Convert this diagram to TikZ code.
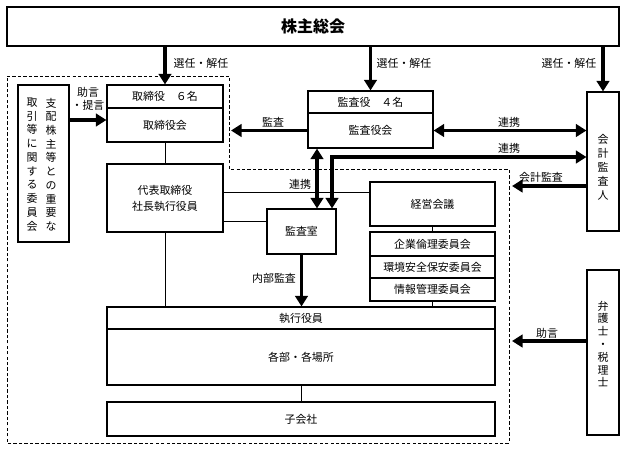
\documentclass[tikz,border=0pt]{standalone}
\usepackage{fontspec}
\setmainfont{Noto Sans CJK JP}
\usetikzlibrary{arrows.meta}
\newcommand\jpfs{\fontsize{8.2pt}{10pt}\selectfont}
\newcommand\bx[6]{\node[box, minimum width={(#4-#2)*0.75pt}, minimum height={(#5-#3)*0.75pt}] (#1) at ({(#2+#4)/2},{(#3+#5)/2}) {#6};}
\begin{document}
\begin{tikzpicture}[x=0.75pt,y=-0.75pt,
  box/.style={draw, line width=0.85pt, inner sep=0pt, align=center, font=\jpfs},
  lbl/.style={inner sep=0pt, font=\jpfs, align=center},
  arr/.style={line width=2.6pt, -{Triangle[length=8pt,width=9.5pt]}},
  darr/.style={line width=2.6pt, {Triangle[length=8pt,width=9.5pt]}-{Triangle[length=8pt,width=9.5pt]}},
  ln/.style={line width=0.75pt},
  grp/.style={line width=0.75pt, dash pattern=on 2.5pt off 1.6pt}]
\useasboundingbox (0,0) rectangle (627,451);
\fill[white] (0,0) rectangle (627,451);

% group (dashed)
\draw[grp] (7,76) -- (229,76) -- (229,169) -- (509,169) -- (509,443) -- (7,443) -- cycle;

% boxes
\bx{top}{7}{7}{619}{46}{{\fontsize{12pt}{14pt}\selectfont\bfseries 株主総会}}
\bx{iinkai}{18}{85}{69}{242}{}
\bx{tori_h}{107}{85}{223}{108}{取締役　６名}
\bx{tori_b}{107}{108}{223}{142}{取締役会}
\bx{kansa_h}{308}{91}{433}{113}{監査役　４名}
\bx{kansa_b}{308}{113}{433}{148}{監査役会}
\bx{kaikei}{587}{92}{619}{231}{}
\bx{bengo}{587}{270}{619}{435}{}
\bx{daihyo}{107}{164}{223}{232}{代表取締役\\[2pt]社長執行役員}
\bx{shitsu}{267}{209}{336}{254}{監査室}
\bx{keiei}{370}{182}{495}{226}{経営会議}
\bx{c1}{370}{232}{495}{256}{企業倫理委員会}
\bx{c2}{370}{256}{495}{278}{環境安全保安委員会}
\bx{c3}{370}{278}{495}{301}{情報管理委員会}
\bx{shikko_h}{107}{307}{495}{329}{執行役員}
\bx{kakubu}{107}{329}{495}{385}{各部・各場所}
\bx{kogaisha}{107}{402}{495}{436}{子会社}

% vertical texts
\node[lbl, font=\fontsize{8.2pt}{10.3pt}\selectfont] (iinR) at (51,164.5) {支\\配\\株\\主\\等\\と\\の\\重\\要\\な};
\node[lbl, font=\fontsize{8.2pt}{10.3pt}\selectfont] (iinL) at (32,164.5) {取\\引\\等\\に\\関\\す\\る\\委\\員\\会};
\node[lbl, font=\fontsize{8.2pt}{10.5pt}\selectfont] (kaikeiT) at (603,167) {会\\計\\監\\査\\人};
\node[lbl, font=\fontsize{8.2pt}{9.6pt}\selectfont] (bengoT) at (603,344) {弁\\護\\士\\・\\税\\理\\士};

% helper coordinates
\coordinate (yA) at (0,120);
\coordinate (kansaTip) at (231,0);
\coordinate (yB) at (0,157);
\coordinate (xR) at (332,0);
\coordinate (xL) at (317,0);
\coordinate (yC) at (0,186);
\coordinate (xD) at (512,0);
\coordinate (yE) at (0,341);
\coordinate (yF) at (0,192);
\coordinate (yG) at (0,221);

% thin lines
\draw[ln] (tori_b.south) -- (daihyo.north);
\draw[ln] (daihyo.south) -- (daihyo.south |- shikko_h.north);
\draw[ln] (daihyo.east |- yF) -- (keiei.west |- yF);
\draw[ln] (daihyo.east |- yG) -- (shitsu.west |- yG);
\draw[ln] (keiei.south) -- (c1.north);
\draw[ln] (c3.south) -- (c3.south |- shikko_h.north);
\draw[ln] (kakubu.south) -- (kogaisha.north);

% thick arrows
\draw[arr] (tori_h.north |- top.south) -- (tori_h.north);
\draw[arr] (kansa_h.north |- top.south) -- (kansa_h.north);
\draw[arr] (kaikei.north |- top.south) -- (kaikei.north);
\draw[arr] (iinkai.east |- yA) -- (tori_b.west |- yA);
\draw[arr] (kansa_b.west) -- (kansaTip |- kansa_b.west);
\draw[darr] (kansa_b.east) -- (kaikei.west |- kansa_b.east);
\draw[darr] (kaikei.west |- yB) -| (xR |- shitsu.north);
\draw[darr] (xL |- kansa_b.south) -- (xL |- shitsu.north);
\draw[arr] (kaikei.west |- yC) -- (xD |- yC);
\draw[arr] (bengo.west |- yE) -- (xD |- yE);
\draw[arr] (shitsu.south) -- (shitsu.south |- shikko_h.north);

% labels
\node[lbl] (l1) at (201,63) {選任・解任};
\node[lbl] (l2) at (404,63) {選任・解任};
\node[lbl] (l3) at (569,63) {選任・解任};
\node[lbl, font=\fontsize{8.2pt}{9.5pt}\selectfont] (l4) at (88,99) {助言\\・提言};
\node[lbl] (l5) at (273,122) {監査};
\node[lbl] (l6) at (509,122) {連携};
\node[lbl] (l7) at (509,148) {連携};
\node[lbl] (l8) at (300,184) {連携};
\node[lbl] (l9) at (541,177) {会計監査};
\node[lbl] (l10) at (274,278) {内部監査};
\node[lbl] (l11) at (547,333) {助言};
\end{tikzpicture}
\end{document}
